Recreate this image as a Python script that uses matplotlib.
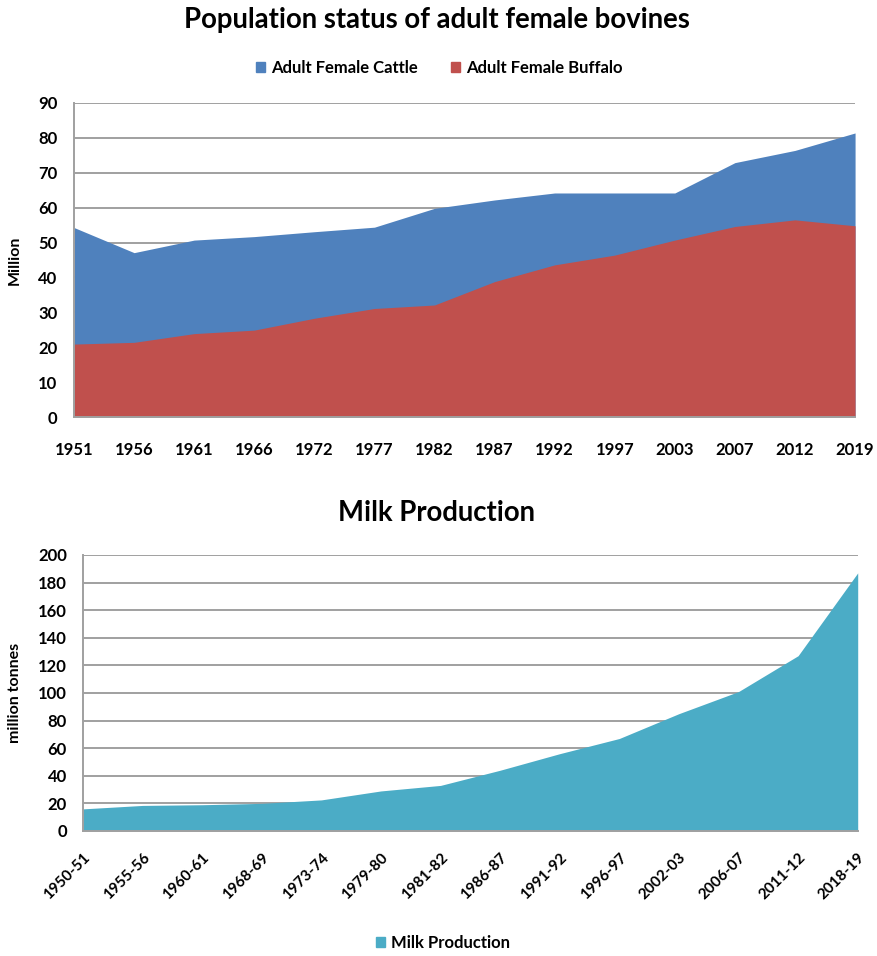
import matplotlib
matplotlib.use("Agg")
import matplotlib.pyplot as plt
from matplotlib.patches import Patch

plt.rcParams['font.family'] = ['Lato', 'DejaVu Sans']

# Adult female bovine population (million)
years = ["1951", "1956", "1961", "1966", "1972", "1977", "1982",
         "1987", "1992", "1997", "2003", "2007", "2012", "2019"]
cattle = [54.3, 47.1, 50.7, 51.7, 53.1, 54.4, 59.8,
          62.2, 64.2, 64.2, 64.2, 72.9, 76.4, 81.4]
buffalo = [20.9, 21.4, 23.9, 24.9, 28.3, 31.1, 32.1,
           38.8, 43.6, 46.4, 50.7, 54.6, 56.5, 54.8]

# Milk production (million tonnes)
periods = ["1950-51", "1955-56", "1960-61", "1968-69", "1973-74", "1979-80",
           "1981-82", "1986-87", "1991-92", "1996-97", "2002-03", "2006-07",
           "2011-12", "2018-19"]
milk = [16, 18.5, 19, 20, 22.5, 29, 33, 44, 56, 67, 85, 101, 127, 187]

BLUE = "#4F81BD"
RED = "#C0504D"
TEAL = "#4BACC6"
GRID = "#A0A0A0"
TICK_SIZE = 12

fig = plt.figure(figsize=(8.77, 9.56), dpi=100)


def style_axes(ax):
    ax.set_axisbelow(True)
    ax.yaxis.grid(True, color=GRID, linewidth=1.4)
    ax.xaxis.grid(False)
    for side in ("top", "right"):
        ax.spines[side].set_visible(False)
    for side in ("left", "bottom"):
        ax.spines[side].set_color(GRID)
        ax.spines[side].set_linewidth(1.4)
    ax.tick_params(length=0, labelsize=TICK_SIZE)
    for lbl in ax.get_xticklabels() + ax.get_yticklabels():
        lbl.set_fontweight("bold")


legend_kw = dict(frameon=False, prop={"size": 12, "weight": "bold"},
                 handlelength=0.55, handleheight=0.55, handletextpad=0.35)

# Top: overlapping areas of cattle and buffalo
ax1 = fig.add_axes([0.0844, 0.5638, 0.8906, 0.3285])
x1 = range(len(years))
ax1.fill_between(x1, 0, cattle, color=BLUE, linewidth=0)
ax1.fill_between(x1, 0, buffalo, color=RED, linewidth=0)
ax1.set_xlim(0, len(years) - 1)
ax1.set_ylim(0, 90)
ax1.set_yticks(range(0, 91, 10))
ax1.set_xticks(list(x1))
ax1.set_xticklabels(years)
ax1.set_ylabel("Million", fontsize=11.5, fontweight="bold")
ax1.yaxis.set_label_coords(-0.0666, 0.5)
style_axes(ax1)
ax1.tick_params(axis="y", pad=12)
ax1.tick_params(axis="x", pad=18)

fig.text(0.498, 0.979, "Population status of adult female bovines",
         ha="center", va="center", fontsize=19.8, fontweight="bold")
fig.legend(handles=[Patch(color=BLUE, label="Adult Female Cattle"),
                    Patch(color=RED, label="Adult Female Buffalo")],
           loc="center", bbox_to_anchor=(0.501, 0.929), ncol=2,
           columnspacing=2.0, **legend_kw)

# Bottom: milk production area
ax2 = fig.add_axes([0.0946, 0.1308, 0.8834, 0.2887])
x2 = range(len(periods))
ax2.fill_between(x2, 0, milk, color=TEAL, linewidth=0)
ax2.set_xlim(0, len(periods) - 1)
ax2.set_ylim(0, 200)
ax2.set_yticks(range(0, 201, 20))
ax2.set_xticks(list(x2))
ax2.set_xticklabels(periods, rotation=45, ha="right", rotation_mode="anchor")
ax2.set_ylabel("million tonnes", fontsize=11.5, fontweight="bold")
ax2.yaxis.set_label_coords(-0.0787, 0.5)
style_axes(ax2)
ax2.tick_params(axis="y", pad=11.5)
ax2.tick_params(axis="x", pad=14, labelsize=11)

fig.text(0.498, 0.4634, "Milk Production", ha="center", va="center",
         fontsize=19.8, fontweight="bold")
fig.legend(handles=[Patch(color=TEAL, label="Milk Production")],
           loc="center", bbox_to_anchor=(0.505, 0.0136), **legend_kw)

fig.savefig("out.png", dpi=100)
